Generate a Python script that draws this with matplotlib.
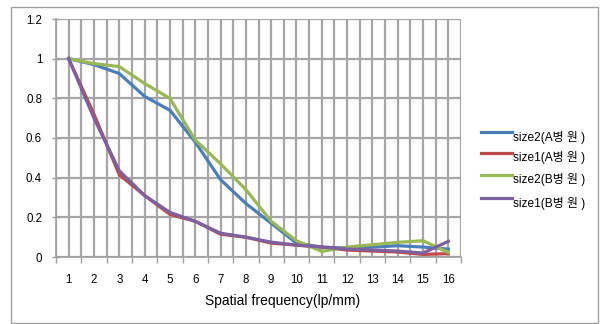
import matplotlib
matplotlib.use("Agg")
import matplotlib.pyplot as plt
from matplotlib.patches import Rectangle
from matplotlib.lines import Line2D
import numpy as np

plt.rcParams['font.family'] = ['Liberation Sans', 'Noto Sans CJK KR', 'DejaVu Sans']

categories = [str(i) for i in range(1, 17)]
size2_A = [1.0, 0.97, 0.925, 0.81, 0.74, 0.58, 0.39, 0.27, 0.17, 0.07, 0.05, 0.045, 0.05, 0.057, 0.05, 0.04]
size1_A = [1.0, 0.72, 0.415, 0.31, 0.215, 0.18, 0.115, 0.10, 0.07, 0.06, 0.05, 0.035, 0.03, 0.025, 0.013, 0.017]
size2_B = [1.0, 0.975, 0.96, 0.875, 0.80, 0.59, 0.47, 0.34, 0.18, 0.082, 0.028, 0.05, 0.062, 0.074, 0.082, 0.023]
size1_B = [1.0, 0.70, 0.435, 0.31, 0.225, 0.18, 0.12, 0.10, 0.075, 0.06, 0.05, 0.04, 0.035, 0.03, 0.02, 0.079]

series = [
    ("size2(A병 원 )", size2_A, "#4a7ebb"),
    ("size1(A병 원 )", size1_A, "#be4b48"),
    ("size2(B병 원 )", size2_B, "#98b954"),
    ("size1(B병 원 )", size1_B, "#7d60a0"),
]

W, H = 603, 324
fig = plt.figure(figsize=(W/100, H/100), dpi=100)
fig.patches.append(Rectangle((11/W, 1-323/H), 587/W, 316/H, transform=fig.transFigure,
                             fill=False, edgecolor='#a0a0a0', linewidth=1.0))
ax = fig.add_axes([56/W, 1-257/H, 405/W, 238/H])

x = np.arange(1, len(categories) + 1)
for name, vals, col in series:
    ax.plot(x, vals, color=col, linewidth=2.3, label=name, solid_joinstyle='round', zorder=3)

ax.set_xlim(0.5, 16.5)
ax.set_ylim(0, 1.2)
ax.set_xticks(x)
ax.set_xticklabels(categories)
ax.set_xticks(np.arange(0.5, 16.6, 1.0), minor=True)
ax.set_yticks([0, 0.2, 0.4, 0.6, 0.8, 1.0, 1.2])
ax.set_yticklabels(['0', '0.2', '0.4', '0.6', '0.8', '1', '1.2'])

ax.tick_params(axis='x', which='major', length=0, pad=12, labelsize=8.3)
ax.tick_params(axis='x', which='minor', length=4, width=1, color='#a0a0a0', direction='out')
ax.tick_params(axis='y', which='major', length=6, width=1, color='#a0a0a0', direction='inout', labelsize=8.3, pad=7)

ax.grid(True, which='both', axis='x', color='#a6a6a6', linewidth=1.6, zorder=0)
ax.grid(True, which='major', axis='y', color='#a6a6a6', linewidth=1.6, zorder=0)
ax.set_axisbelow(True)

for s in ['top', 'right']:
    ax.spines[s].set_visible(False)
for s in ['left', 'bottom']:
    ax.spines[s].set_color('#a0a0a0')
    ax.spines[s].set_linewidth(1.2)

ax.set_xlabel("Spatial frequency(lp/mm)", fontsize=10)
ax.xaxis.set_label_coords(0.56, -0.155)

# legend drawn manually
ys = [132, 153, 175, 198]
for (name, vals, col), yy in zip(series, ys):
    fig.add_artist(Line2D([481/W, 512/W], [1-yy/H, 1-yy/H], color=col, linewidth=2.3,
                          transform=fig.transFigure))
    fig.text(513/W, 1-(yy+5)/H, name, fontsize=8.6, va='center', ha='left')

fig.savefig("out.png", dpi=100)
